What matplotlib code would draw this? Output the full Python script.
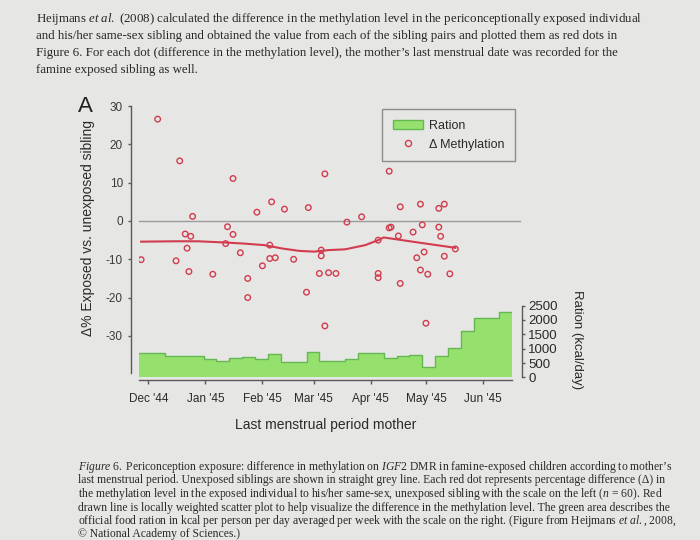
import matplotlib
matplotlib.use("Agg")
import matplotlib.pyplot as plt
from matplotlib.patches import Patch
from matplotlib.lines import Line2D
import numpy as np
import pandas as pd

plt.rcParams['font.family'] = ['Liberation Sans', 'DejaVu Sans']
plt.rcParams['mathtext.fontset'] = 'custom'
plt.rcParams['mathtext.rm'] = 'Liberation Serif'
plt.rcParams['mathtext.it'] = 'Liberation Serif:italic'

# ---------------- data ----------------
dot_dates = ['1944-11-27', '1944-12-06', '1944-12-16', '1944-12-18', '1944-12-21',
             '1944-12-22', '1944-12-23', '1944-12-24', '1944-12-25', '1945-01-05',
             '1945-01-12', '1945-01-13', '1945-01-16', '1945-01-16', '1945-01-20',
             '1945-01-24', '1945-01-24', '1945-01-29', '1945-02-01', '1945-02-05',
             '1945-02-05', '1945-02-06', '1945-02-08', '1945-02-13', '1945-02-18',
             '1945-02-25', '1945-02-26', '1945-03-04', '1945-03-05', '1945-03-05',
             '1945-03-07', '1945-03-07', '1945-03-09', '1945-03-13', '1945-03-19',
             '1945-03-27', '1945-04-05', '1945-04-05', '1945-04-05', '1945-04-11',
             '1945-04-11', '1945-04-12', '1945-04-16', '1945-04-17', '1945-04-17',
             '1945-04-24', '1945-04-26', '1945-04-28', '1945-04-28', '1945-04-29',
             '1945-04-30', '1945-05-01', '1945-05-02', '1945-05-08', '1945-05-08',
             '1945-05-09', '1945-05-11', '1945-05-11', '1945-05-14', '1945-05-17']
dot_values = [-10.1, 26.6, -10.4, 15.7, -3.4,
              -7.1, -13.2, -4.0, 1.2, -13.9,
              -5.9, -1.5, -3.5, 11.1, -8.3,
              -15.0, -20.0, 2.3, -11.7, -9.8,
              -6.3, 5.0, -9.6, 3.1, -10.0,
              -18.6, 3.5, -13.7, -7.6, -9.1,
              12.3, -27.4, -13.5, -13.7, -0.3,
              1.1, -5.0, -13.7, -14.8, 13.0,
              -1.8, -1.6, -3.9, 3.7, -16.3,
              -2.9, -9.6, 4.4, -12.8, -1.0,
              -8.1, -26.7, -13.9, -1.6, 3.3,
              -4.0, -9.2, 4.4, -13.8, -7.3]

loess_dates = ['1944-11-27', '1944-12-15', '1944-12-28', '1945-01-11', '1945-01-22',
               '1945-02-02', '1945-02-12', '1945-02-21', '1945-03-01', '1945-03-09',
               '1945-03-18', '1945-03-29', '1945-04-05', '1945-04-08', '1945-04-28',
               '1945-05-17']
loess_values = [-5.4, -5.3, -5.3, -5.6, -5.9,
                -6.3, -7.2, -7.8, -8.0, -7.6,
                -7.4, -6.3, -5.0, -4.3, -5.7,
                -7.0]

ration_week_start = '1944-11-26'
ration_kcal = [863, 863, 760, 760, 760, 638, 580, 692, 726, 658,
               808, 522, 522, 887, 556, 556, 658, 842, 842, 692,
               750, 795, 351, 750, 1013, 1627, 2057, 2057, 2261]

month_ticks = ['1944-12-01', '1945-01-01', '1945-02-01', '1945-03-01',
               '1945-04-01', '1945-05-01', '1945-06-01']
month_labels = ["Dec '44", "Jan '45", "Feb '45", "Mar '45", "Apr '45", "May '45", "Jun '45"]
left_ticks = [30, 20, 10, 0, -10, -20, -30]
right_ticks = [2500, 2000, 1500, 1000, 500, 0]

para_lines = [
    r"Heijmans $\mathit{et\ al.}$ (2008) calculated the difference in the methylation level in the periconceptionally exposed individual",
    "and his/her same-sex sibling and obtained the value from each of the sibling pairs and plotted them as red dots in",
    "Figure 6. For each dot (difference in the methylation level), the mother’s last menstrual date was recorded for the",
    "famine exposed sibling as well.",
]
caption_lines = [
    r"$\mathit{Figure\ 6.}$ Periconception exposure: difference in methylation on $\mathit{IGF2}$ DMR in famine-exposed children according to mother’s",
    "last menstrual period. Unexposed siblings are shown in straight grey line. Each red dot represents percentage difference (\u0394) in",
    r"the methylation level in the exposed individual to his/her same-sex, unexposed sibling with the scale on the left ($\mathit{n}$ = 60). Red",
    "drawn line is locally weighted scatter plot to help visualize the difference in the methylation level. The green area describes the",
    r"official food ration in kcal per person per day averaged per week with the scale on the right. (Figure from Heijmans $\mathit{et\ al.}$, 2008,",
    "\u00a9 National Academy of Sciences.)",
]

# ---------------- figure ----------------
W, H = 700, 540
fig = plt.figure(figsize=(7, 5.4), dpi=100)
fig.patch.set_facecolor('#e6e6e4')

def fx(px):
    return px / W

def fy(py):
    return 1 - py / H

ax_left, ax_right, ax_top, ax_bot = 139.3, 512.3, 104, 378
ax = fig.add_axes([fx(ax_left), fy(ax_bot), (ax_right - ax_left) / W, (ax_bot - ax_top) / H])
ax.set_facecolor('none')
ax2 = ax.twinx()
ax2.set_facecolor('none')

red = '#d23c4e'
green_fill = '#96e06e'
green_edge = '#64b850'
spine_col = '#5a5a5a'
text_col = '#2a2a2a'

# ration step area
edges = pd.date_range(ration_week_start, periods=len(ration_kcal) + 1, freq='7D')
vals_ext = np.append(ration_kcal, ration_kcal[-1])
ax2.fill_between(edges, 0, vals_ext, step='post', facecolor=green_fill, edgecolor='none', zorder=1)
ax2.step(edges, vals_ext, where='post', color=green_edge, lw=1.0, zorder=2)

# zero line
ax.axhline(0, xmin=0, xmax=1.02, color='#9c9c9c', lw=1.0, clip_on=False, zorder=2)

# loess line and dots
ax.plot(pd.to_datetime(loess_dates), loess_values, color=red, lw=1.5, zorder=4)
ax.scatter(pd.to_datetime(dot_dates), dot_values, s=16, facecolors='none',
           edgecolors=red, linewidths=1.0, zorder=5)

ax.set_zorder(ax2.get_zorder() + 1)

# scales (left: 0 at y=221px, 3.83 px per unit)
ax.set_ylim(-41.0, 30.55)
ax2.set_ylim(-17.4, 9497)
ax.set_xlim(edges[0], edges[-1])

# spines
for a in (ax, ax2):
    for s in a.spines.values():
        s.set_visible(False)
ax.spines['left'].set_visible(True)
ax.spines['left'].set_position(('outward', 5.8))
ax.spines['left'].set_bounds(-39.7, 30)
ax.spines['bottom'].set_visible(True)
ax.spines['bottom'].set_position(('outward', 1.5))
ax2.spines['right'].set_visible(True)
ax2.spines['right'].set_position(('outward', 7))
ax2.spines['right'].set_bounds(0, 2500)
for s in (ax.spines['left'], ax.spines['bottom'], ax2.spines['right']):
    s.set_color(spine_col)
    s.set_linewidth(1.0)

ax.set_yticks(left_ticks)
ax.set_yticklabels([str(t) for t in left_ticks])
ax.set_xticks(pd.to_datetime(month_ticks))
ax.set_xticklabels(month_labels)
ax2.set_yticks(right_ticks)
ax2.set_yticklabels([str(t) for t in right_ticks])

ax.tick_params(axis='y', length=2.5, width=1, color=spine_col, pad=3.5,
               labelsize=8.5, labelcolor='#3a3a3a')
ax.tick_params(axis='x', length=3, width=1, color=spine_col, pad=6,
               labelsize=8.5, labelcolor='#2a2a2a')
ax2.tick_params(axis='y', length=2.5, width=1, color=spine_col, pad=2,
                labelsize=9.5, labelcolor='#2a2a2a')

# legend
handles = [Patch(facecolor=green_fill, edgecolor=green_edge, lw=1.0),
           Line2D([], [], marker='o', ls='none', markersize=4.4, markerfacecolor='none',
                  markeredgecolor=red, markeredgewidth=1.0)]
leg = ax.legend(handles, ['Ration', '\u0394 Methylation'], loc='upper left',
                bbox_to_anchor=((382 - ax_left) / (ax_right - ax_left), (ax_bot - 109) / (ax_bot - ax_top)),
                fontsize=9, frameon=True, fancybox=False, edgecolor='#777777',
                facecolor='none', handlelength=2.4, handleheight=0.8,
                borderpad=0.85, labelspacing=0.55, handletextpad=0.5, borderaxespad=0)
leg.get_frame().set_linewidth(1.0)
for t in leg.get_texts():
    t.set_color(text_col)

# labels
fig.text(fx(85), fy(106), 'A', fontsize=16, color='#222222', ha='center', va='center')
fig.text(fx(88), fy(228), '\u0394% Exposed vs. unexposed sibling', rotation=90,
         fontsize=10, color=text_col, ha='center', va='center')
fig.text(fx(326), fy(425), 'Last menstrual period mother', fontsize=10,
         color=text_col, ha='center', va='center')
fig.text(fx(577), fy(340), 'Ration (kcal/day)', rotation=-90, fontsize=9.5,
         color=text_col, ha='center', va='center')

# text on the page
para_y = [22, 39, 56, 73]
for line, y in zip(para_lines, para_y):
    fig.text(fx(36), fy(y), line, fontsize=9.3, family='Liberation Serif',
             color='#262626', ha='left', va='baseline')
cap_y = [470, 483.5, 497, 510.5, 524, 537]
for line, y in zip(caption_lines, cap_y):
    fig.text(fx(78), fy(y), line, fontsize=8.4, family='Liberation Serif',
             color='#2a2a2a', ha='left', va='baseline')

fig.savefig('out.png', dpi=100, facecolor=fig.get_facecolor())
